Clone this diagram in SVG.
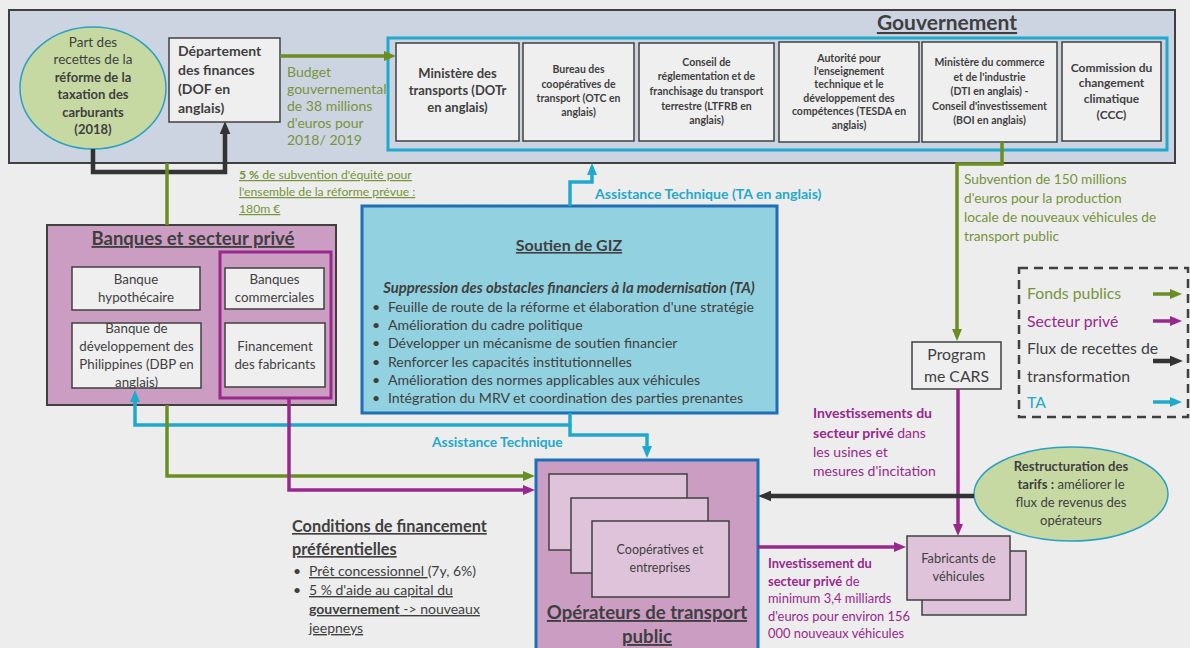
<svg xmlns="http://www.w3.org/2000/svg" width="1190" height="648" viewBox="0 0 1190 648">
<defs>
<style>
text{font-family:Lato,"Open Sans","Liberation Sans",sans-serif;fill:#3f3f3f;}
.c{text-anchor:middle;}
.b{font-weight:bold;}
.u{text-decoration:underline;}
.box{fill:#efefef;stroke:#404040;stroke-width:1.5;}
.pk{fill:#dfc3da;stroke:#404040;stroke-width:1.5;}
.g{fill:#77933c;}
.p{fill:#98288c;}
.cy{fill:#1fa9cc;}
.lg{fill:none;stroke:#6b8e23;stroke-width:3.5;}
.lp{fill:none;stroke:#98288c;stroke-width:3.5;}
.lc{fill:none;stroke:#1fa9cc;stroke-width:3.5;}
.lk{fill:none;stroke:#333;stroke-width:4.5;}
.s10{font-size:10.5px;}
.s12{font-size:12.5px;}
.s13{font-size:13px;}
.s14{font-size:14px;}
</style>
<marker id="mg" viewBox="0 0 12 10" refX="2" refY="5" markerWidth="12" markerHeight="10" markerUnits="userSpaceOnUse" orient="auto"><path d="M0,0 L12,5 L0,10 z" fill="#6b8e23"/></marker>
<marker id="mp" viewBox="0 0 12 10" refX="2" refY="5" markerWidth="12" markerHeight="10" markerUnits="userSpaceOnUse" orient="auto"><path d="M0,0 L12,5 L0,10 z" fill="#98288c"/></marker>
<marker id="mc" viewBox="0 0 12 10" refX="2" refY="5" markerWidth="12" markerHeight="10" markerUnits="userSpaceOnUse" orient="auto"><path d="M0,0 L12,5 L0,10 z" fill="#1fa9cc"/></marker>
<marker id="mk" viewBox="0 0 12 10" refX="2" refY="5" markerWidth="13" markerHeight="11" markerUnits="userSpaceOnUse" orient="auto"><path d="M0,0 L12,5 L0,10 z" fill="#333"/></marker>
</defs>
<rect x="0" y="0" width="1190" height="648" fill="#ededed"/>

<g id="gouvernement">
<rect x="9" y="10" width="1166" height="153" fill="#cdd4e1" stroke="#404040" stroke-width="2"/>
<text x="947" y="30" class="c b u" font-size="21">Gouvernement</text>
<rect x="388" y="38" width="779" height="112" fill="none" stroke="#1fa9cc" stroke-width="3"/>
</g>

<g id="recettes">
<ellipse cx="93" cy="88" rx="73" ry="61" fill="#c6d9a3" stroke="#2aa1c0" stroke-width="1.5"/>
<text class="c" font-size="13.5"><tspan x="93" y="47">Part des</tspan><tspan x="93" y="64">recettes de la</tspan><tspan x="93" y="82" class="b" font-size="13">réforme de la</tspan><tspan x="93" y="99" class="b" font-size="13">taxation des</tspan><tspan x="93" y="117" class="b" font-size="13">carburants</tspan><tspan x="93" y="134" class="b" font-size="13">(2018)</tspan></text>
</g>

<g id="dof">
<rect class="box" x="169" y="38" width="111" height="84"/>
<text class="b s14"><tspan x="178" y="56">Département</tspan><tspan x="178" y="75">des finances</tspan><tspan x="178" y="94">(DOF en</tspan><tspan x="178" y="113">anglais)</tspan></text>
</g>

<g id="dotr">
<rect class="box" x="396" y="43" width="123" height="98"/>
<text class="c b s13"><tspan x="457.5" y="78">Ministère des</tspan><tspan x="457.5" y="95">transports (DOTr</tspan><tspan x="457.5" y="112">en anglais)</tspan></text>
</g>
<g id="otc">
<rect class="box" x="523" y="43" width="111" height="98"/>
<text class="c b s10"><tspan x="578.5" y="73">Bureau des</tspan><tspan x="578.5" y="88">coopératives de</tspan><tspan x="578.5" y="102">transport (OTC en</tspan><tspan x="578.5" y="116">anglais)</tspan></text>
</g>
<g id="ltfrb">
<rect class="box" x="639" y="43" width="135" height="98"/>
<text class="c b s10"><tspan x="706.5" y="66">Conseil de</tspan><tspan x="706.5" y="80">réglementation et de</tspan><tspan x="706.5" y="95">franchisage du transport</tspan><tspan x="706.5" y="110">terrestre (LTFRB en</tspan><tspan x="706.5" y="124">anglais)</tspan></text>
</g>
<g id="tesda">
<rect class="box" x="779" y="42" width="140" height="100"/>
<text class="c b s10"><tspan x="849" y="62">Autorité pour</tspan><tspan x="849" y="75">l'enseignement</tspan><tspan x="849" y="88">technique et le</tspan><tspan x="849" y="102">développement des</tspan><tspan x="849" y="115">compétences (TESDA en</tspan><tspan x="849" y="129">anglais)</tspan></text>
</g>
<g id="dti">
<rect class="box" x="922" y="42" width="135" height="100"/>
<text class="c b s10"><tspan x="989.5" y="66">Ministère du commerce</tspan><tspan x="989.5" y="81">et de l'industrie</tspan><tspan x="989.5" y="95">(DTI en anglais) -</tspan><tspan x="989.5" y="110">Conseil d'investissement</tspan><tspan x="989.5" y="124">(BOI en anglais)</tspan></text>
</g>
<g id="ccc">
<rect class="box" x="1062" y="42" width="99" height="99"/>
<text class="c b" font-size="12"><tspan x="1111.5" y="72">Commission du</tspan><tspan x="1111.5" y="87">changement</tspan><tspan x="1111.5" y="103">climatique</tspan><tspan x="1111.5" y="119">(CCC)</tspan></text>
</g>

<g id="banques">
<rect x="47" y="225" width="289" height="180" fill="#cc9dc3" stroke="#404040" stroke-width="2"/>
<text x="193" y="245" class="c b u" font-size="18.5">Banques et secteur privé</text>
<rect x="220" y="252" width="111" height="146" fill="none" stroke="#98288c" stroke-width="3"/>
<g id="hypothecaire"><rect class="box" x="72" y="267" width="128" height="43"/>
<text class="c" font-size="13.3"><tspan x="136" y="284">Banque</tspan><tspan x="136" y="302">hypothécaire</tspan></text></g>
<g id="dbp"><rect class="box" x="72" y="323" width="129" height="65"/>
<text class="c" font-size="13.3"><tspan x="136.5" y="333">Banque de</tspan><tspan x="136.5" y="351">développement des</tspan><tspan x="136.5" y="369">Philippines (DBP en</tspan><tspan x="136.5" y="387">anglais)</tspan></text></g>
<g id="commerciales"><rect class="box" x="225" y="268" width="99" height="41"/>
<text class="c" font-size="13.3"><tspan x="274.5" y="284">Banques</tspan><tspan x="274.5" y="302">commerciales</tspan></text></g>
<g id="fabfin"><rect class="box" x="225" y="323" width="100" height="64"/>
<text class="c" font-size="13.3"><tspan x="275" y="351">Financement</tspan><tspan x="275" y="369">des fabricants</tspan></text></g>
</g>

<g id="giz">
<rect x="362" y="206" width="415" height="207" fill="#92d1df" stroke="#1f6fb7" stroke-width="3"/>
<text x="569" y="251" class="c b u" font-size="16">Soutien de GIZ</text>
<text x="569" y="293" class="c b" font-size="14.8" font-style="italic">Suppression des obstacles financiers à la modernisation (TA)</text>
<text font-size="14.1"><tspan x="372" y="312">•</tspan><tspan x="388" y="312">Feuille de route de la réforme et élaboration d'une stratégie</tspan><tspan x="372" y="330">•</tspan><tspan x="388" y="330">Amélioration du cadre politique</tspan><tspan x="372" y="348">•</tspan><tspan x="388" y="348">Développer un mécanisme de soutien financier</tspan><tspan x="372" y="367">•</tspan><tspan x="388" y="367">Renforcer les capacités institutionnelles</tspan><tspan x="372" y="385">•</tspan><tspan x="388" y="385">Amélioration des normes applicables aux véhicules</tspan><tspan x="372" y="403">•</tspan><tspan x="388" y="403">Intégration du MRV et coordination des parties prenantes</tspan></text>
</g>

<g id="operateurs">
<rect x="536" y="460" width="222" height="200" fill="#cc9dc3" stroke="#1f6fb7" stroke-width="3"/>
<rect class="pk" x="549" y="474" width="138" height="76"/>
<rect class="pk" x="571" y="498" width="137" height="75"/>
<rect class="pk" x="592" y="521" width="137" height="76"/>
<text class="c s12"><tspan x="660" y="554">Coopératives et</tspan><tspan x="660" y="572">entreprises</tspan></text>
<text class="c b u" font-size="18.6"><tspan x="647" y="619">Opérateurs de transport</tspan><tspan x="647" y="643">public</tspan></text>
</g>

<g id="cars">
<rect x="912" y="342" width="89" height="47" fill="#efefef" stroke="#404040" stroke-width="1.5"/>
<text class="c" font-size="15.8"><tspan x="956.5" y="360">Program</tspan><tspan x="956.5" y="382">me CARS</tspan></text>
</g>

<g id="fabricants">
<rect class="pk" x="922" y="551" width="104" height="64"/>
<rect class="pk" x="907" y="536" width="103" height="64"/>
<text class="c" font-size="12.8"><tspan x="958.5" y="563">Fabricants de</tspan><tspan x="958.5" y="581">véhicules</tspan></text>
</g>

<g id="tarifs">
<ellipse cx="1071" cy="494" rx="97" ry="47" fill="#c6d9a3" stroke="#2aa1c0" stroke-width="1.5"/>
<text class="c" font-size="13.1"><tspan x="1071" y="471" class="b">Restructuration des</tspan><tspan x="1071" y="489"><tspan class="b">tarifs :</tspan> améliorer le</tspan><tspan x="1071" y="507">flux de revenus des</tspan><tspan x="1071" y="525">opérateurs</tspan></text>
</g>

<g id="legende">
<rect x="1019" y="268" width="169" height="149" fill="none" stroke="#404040" stroke-width="2.5" stroke-dasharray="9,6"/>
<text font-size="15.8"><tspan x="1027" y="299" class="g">Fonds publics</tspan><tspan x="1027" y="327" class="p">Secteur privé</tspan><tspan x="1027" y="354">Flux de recettes de</tspan><tspan x="1027" y="382">transformation</tspan><tspan x="1027" y="408" class="cy">TA</tspan></text>
<path class="lg" d="M1153,294 H1172" marker-end="url(#mg)" stroke-width="3"/>
<path class="lp" d="M1153,321 H1172" marker-end="url(#mp)" stroke-width="3"/>
<path class="lk" d="M1153,361 H1172" marker-end="url(#mk)" stroke-width="3"/>
<path class="lc" d="M1153,402 H1172" marker-end="url(#mc)" stroke-width="3"/>
</g>

<g id="connecteurs">
<path class="lg" d="M280,56 H386" marker-end="url(#mg)"/>
<path class="lk" d="M93,149 V172 H225 V132" marker-end="url(#mk)"/>
<path class="lg" d="M167,163 V225"/>
<path class="lc" d="M570,206 V182 H592 V173" marker-end="url(#mc)"/>
<path class="lg" d="M1002,142 V164 H957 V331" marker-end="url(#mg)"/>
<path class="lc" d="M570,413 V425 H135 V400" marker-end="url(#mc)"/>
<path class="lc" d="M570,425 V435 H647 V448" marker-end="url(#mc)"/>
<path class="lg" d="M167,405 V476 H525" marker-end="url(#mg)"/>
<path class="lp" d="M289,398 V490 H525" marker-end="url(#mp)"/>
<path class="lp" d="M758,547 H896" marker-end="url(#mp)"/>
<path class="lp" d="M958,389 V526" marker-end="url(#mp)"/>
<path class="lk" d="M974,496 H769" marker-end="url(#mk)"/>
</g>

<g id="labels">
<text class="g" font-size="14"><tspan x="287" y="77">Budget</tspan><tspan x="287" y="94">gouvernemental</tspan><tspan x="287" y="111">de 38 millions</tspan><tspan x="287" y="128">d'euros pour</tspan><tspan x="287" y="145">2018/ 2019</tspan></text>
<text class="g u" font-size="12.2"><tspan x="239" y="179"><tspan class="b">5 %</tspan> de subvention d'équité pour</tspan><tspan x="239" y="196">l'ensemble de la réforme prévue :</tspan><tspan x="239" y="213">180m €</tspan></text>
<text class="cy b" font-size="14.1" x="595" y="199">Assistance Technique (TA en anglais)</text>
<text class="g" font-size="13.7"><tspan x="964" y="184">Subvention de 150 millions</tspan><tspan x="964" y="203">d'euros pour la production</tspan><tspan x="964" y="222">locale de nouveaux véhicules de</tspan><tspan x="964" y="241">transport public</tspan></text>
<text class="cy b" font-size="13.8" x="432" y="447">Assistance Technique</text>
<text class="p" font-size="14"><tspan x="813" y="418" class="b">Investissements du</tspan><tspan x="813" y="438"><tspan class="b">secteur privé</tspan> dans</tspan><tspan x="813" y="457">les usines et</tspan><tspan x="813" y="476">mesures d'incitation</tspan></text>
<text class="p" font-size="12.9"><tspan x="768" y="568" class="b">Investissement du</tspan><tspan x="768" y="586"><tspan class="b">secteur privé</tspan> de</tspan><tspan x="768" y="603">minimum 3,4 milliards</tspan><tspan x="768" y="621">d'euros pour environ 156</tspan><tspan x="768" y="638">000 nouveaux véhicules</tspan></text>
<text class="b u" font-size="16.3"><tspan x="292" y="532">Conditions de financement</tspan><tspan x="292" y="555">préférentielles</tspan></text>
<text font-size="14"><tspan x="293" y="576">•</tspan><tspan x="309" y="576"><tspan class="u">Prêt concessionnel </tspan>(7y, 6%)</tspan><tspan x="293" y="595">•</tspan><tspan x="309" y="595" class="u">5 % d'aide au capital du</tspan><tspan x="309" y="614" class="u"><tspan class="b">gouvernement</tspan> -&gt; nouveaux</tspan><tspan x="309" y="633" class="u">jeepneys</tspan></text>
</g>
</svg>
